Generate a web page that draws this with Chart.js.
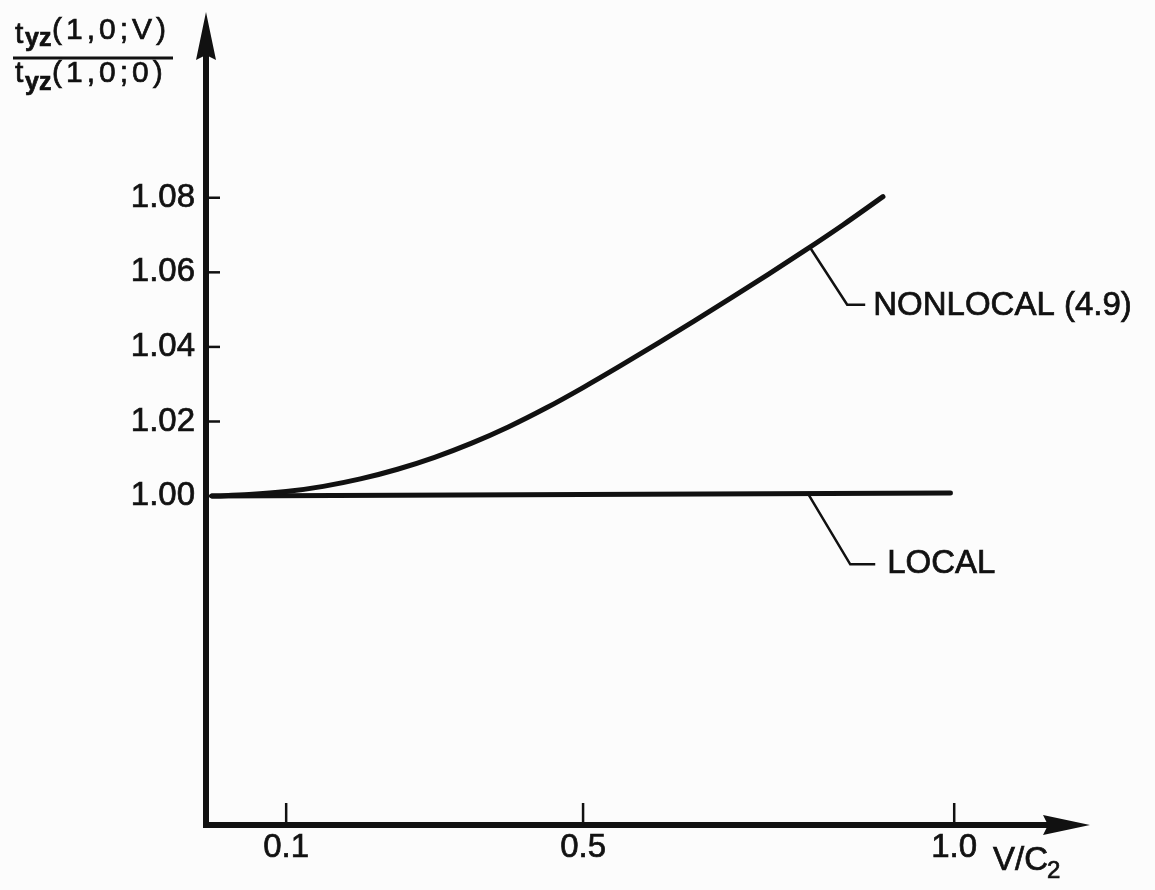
<!DOCTYPE html>
<html>
<head>
<meta charset="utf-8">
<title>t_yz(1,0;V) / t_yz(1,0;0) against V/C2</title>
<script src="https://cdn.jsdelivr.net/npm/chart.js@4.4.1/dist/chart.umd.min.js"></script>
<style>
  html, body { margin: 0; padding: 0; background: #fcfcfc; }
  canvas { display: block; }
</style>
</head>
<body>
<canvas id="chart" width="1155" height="890"></canvas>
<script>
// values
const vNonlocal = [0, 0.05, 0.10, 0.15, 0.20, 0.25, 0.30, 0.35, 0.40, 0.45, 0.50, 0.55, 0.60, 0.65, 0.70, 0.75, 0.80, 0.85, 0.904];
const tNonlocal = [1.000, 1.0004, 1.0012, 1.0026, 1.0046, 1.0072, 1.0104, 1.0142, 1.0186, 1.0236, 1.0291, 1.0349, 1.0409, 1.0470, 1.0532, 1.0595, 1.0660, 1.0727, 1.0803];

const vLocal = [0, 0.995];
const tLocal = [1.000, 1.0008];

const xTicks = [0.1, 0.5, 1.0];
const xTickLabels = ['0.1', '0.5', '1.0'];
const yTicks = [1.00, 1.02, 1.04, 1.06, 1.08];
const yTickLabels = ['1.00', '1.02', '1.04', '1.06', '1.08'];

// where the leader lines touch the curves (data units)
const nonlocalNote = { text: 'NONLOCAL (4.9)', v: 0.806, t: 1.0666 };
const localNote = { text: 'LOCAL', v: 0.802, t: 1.001 };

const ink = '#111';
const face = '"Liberation Sans", Arial, sans-serif';

function toPoints(xs, ys) {
    return xs.map((v, i) => ({ x: v, y: ys[i] }));
}

function line(ctx, pts) {
    ctx.beginPath();
    ctx.moveTo(pts[0][0], pts[0][1]);
    for (let i = 1; i < pts.length; i++) ctx.lineTo(pts[i][0], pts[i][1]);
    ctx.stroke();
}

function text(ctx, str, x, y, size, opts = {}) {
    ctx.font = `${opts.bold ? 'bold ' : ''}${size}px ${face}`;
    ctx.letterSpacing = opts.spacing || '0px';
    ctx.textAlign = 'left';
    ctx.textBaseline = opts.baseline || 'alphabetic';
    ctx.lineWidth = 0.7;
    ctx.fillText(str, x, y);
    ctx.strokeText(str, x, y);
    ctx.letterSpacing = '0px';
}

const figure = {
    id: 'figure',
    beforeDraw(chart) {
        const ctx = chart.ctx;
        ctx.save();
        ctx.fillStyle = '#fcfcfc';
        ctx.fillRect(0, 0, chart.width, chart.height);
        ctx.restore();
    },
    afterDraw(chart) {
        const { ctx, chartArea: a, scales: { x, y } } = chart;
        ctx.save();
        ctx.strokeStyle = ink;
        ctx.fillStyle = ink;
        ctx.lineCap = 'butt';

        // tick marks point into the plot
        ctx.lineWidth = 2.5;
        xTicks.forEach(v => {
            const px = x.getPixelForValue(v);
            line(ctx, [[px, a.bottom], [px, a.bottom - 22]]);
        });
        yTicks.forEach(v => {
            const py = y.getPixelForValue(v);
            line(ctx, [[a.left, py], [a.left + 14, py]]);
        });

        // arrow heads
        ctx.beginPath();
        ctx.moveTo(a.left, a.top - 28);
        ctx.lineTo(a.left + 10, a.top + 20);
        ctx.lineTo(a.left, a.top + 15);
        ctx.lineTo(a.left - 10, a.top + 20);
        ctx.closePath();
        ctx.fill();

        ctx.beginPath();
        ctx.moveTo(a.right + 20, a.bottom);
        ctx.lineTo(a.right - 27, a.bottom - 10);
        ctx.lineTo(a.right - 22, a.bottom);
        ctx.lineTo(a.right - 27, a.bottom + 10);
        ctx.closePath();
        ctx.fill();

        // leaders + labels
        ctx.lineWidth = 2.5;
        let sx = x.getPixelForValue(nonlocalNote.v), sy = y.getPixelForValue(nonlocalNote.t);
        line(ctx, [[sx, sy], [sx + 37, sy + 57], [sx + 55, sy + 57]]);
        text(ctx, nonlocalNote.text, sx + 63, sy + 58, 33, { baseline: 'middle' });

        sx = x.getPixelForValue(localNote.v); sy = y.getPixelForValue(localNote.t);
        ctx.lineWidth = 2.5;
        line(ctx, [[sx, sy], [sx + 43, sy + 72], [sx + 68, sy + 72]]);
        text(ctx, localNote.text, sx + 80, sy + 72, 33, { baseline: 'middle' });

        // y title, as a fraction
        text(ctx, 't', 15, 43, 30);
        text(ctx, 'yz', 25, 46, 25, { bold: true });
        text(ctx, '(1,0;V)', 52, 39, 30, { spacing: '4px' });
        ctx.lineWidth = 3;
        line(ctx, [[13, 58], [173, 58]]);
        text(ctx, 't', 15, 82, 30);
        text(ctx, 'yz', 25, 90, 25, { bold: true });
        text(ctx, '(1,0;0)', 52, 82, 30, { spacing: '4px' });

        // x title
        text(ctx, 'V/C', 993, 870, 33);
        text(ctx, '2', 1047, 878, 24);

        ctx.restore();
    }
};

new Chart(document.getElementById('chart'), {
    type: 'line',
    data: {
        datasets: [
            {
                label: 'NONLOCAL (4.9)',
                data: toPoints(vNonlocal, tNonlocal),
                borderColor: ink,
                borderWidth: 5,
                pointRadius: 0,
                cubicInterpolationMode: 'monotone',
                borderCapStyle: 'round',
                fill: false
            },
            {
                label: 'LOCAL',
                data: toPoints(vLocal, tLocal),
                borderColor: ink,
                borderWidth: 5,
                pointRadius: 0,
                borderCapStyle: 'round',
                fill: false
            }
        ]
    },
    options: {
        responsive: false,
        animation: false,
        layout: { padding: { left: 0, top: 40, right: 85, bottom: 0 } },
        plugins: {
            legend: { display: false },
            tooltip: { enabled: false }
        },
        scales: {
            x: {
                type: 'linear',
                min: -0.008,
                max: 1.156,
                afterFit: s => { s.height = 65; },
                afterBuildTicks: s => { s.ticks = xTicks.map(v => ({ value: v })); },
                grid: { display: true, drawOnChartArea: false, drawTicks: false, color: 'transparent' },
                border: { display: true, color: ink, width: 6 },
                ticks: {
                    color: ink,
                    textStrokeColor: ink,
                    textStrokeWidth: 0.7,
                    padding: 3,
                    maxRotation: 0,
                    font: { family: face, size: 33 },
                    callback: (val, i) => xTickLabels[i]
                }
            },
            y: {
                type: 'linear',
                min: 0.9118,
                max: 1.1223,
                afterFit: s => { s.width = 206; },
                afterBuildTicks: s => { s.ticks = yTicks.map(v => ({ value: v })); },
                grid: { display: true, drawOnChartArea: false, drawTicks: false, color: 'transparent' },
                border: { display: true, color: ink, width: 6 },
                ticks: {
                    color: ink,
                    textStrokeColor: ink,
                    textStrokeWidth: 0.7,
                    padding: 11,
                    font: { family: face, size: 33 },
                    callback: (val, i) => yTickLabels[i]
                }
            }
        }
    },
    plugins: [figure]
});
</script>
</body>
</html>
